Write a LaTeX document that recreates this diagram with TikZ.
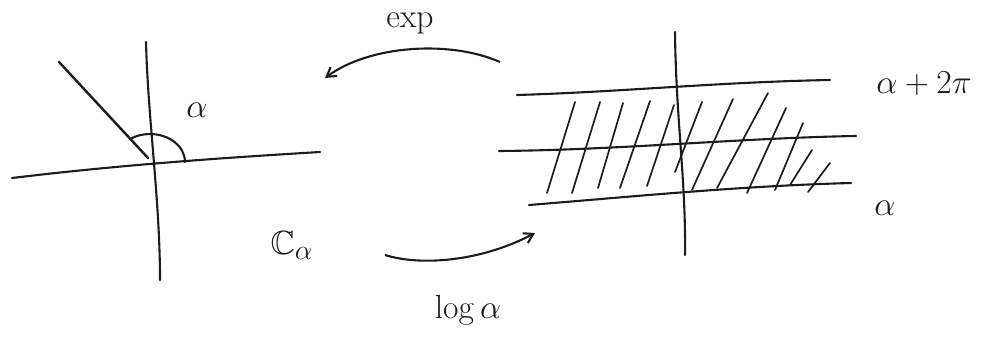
\documentclass[tikz,border=0pt]{standalone}
\usepackage{amssymb}
\usetikzlibrary{arrows.meta, positioning}
\definecolor{pencil}{RGB}{28,28,28}
\tikzset{
    axis/.style={draw=pencil, line width=2.1pt, line cap=round},
    ray/.style={draw=pencil, line width=2.4pt, line cap=round},
    hatch/.style={draw=pencil, line width=1.7pt, line cap=round},
    maparrow/.style={-{Straight Barb[length=9pt,width=11pt]}, draw=pencil, line width=2.1pt},
    label/.style={text=pencil, inner sep=0pt, font=\Huge, scale=1.35}
}
\begin{document}
\begin{tikzpicture}[x=1pt, y=-1pt]
    \useasboundingbox (0,0) rectangle (992,342);

    % left plane with the cut ray
    \draw[axis] (12,178) .. controls (120,165) and (220,158) .. (320,152);
    \draw[axis] (146,42) .. controls (148,120) and (160,200) .. (160,280);
    \draw[ray] (59,62) -- (148,158);
    \draw[axis] (185,162) arc[start angle=0, end angle=-125, x radius=35, y radius=28];
    \node (angle) [label] at (197,110) {$\alpha$};
    \node (plane) [label] at (292,245) {$\mathbb{C}_{\alpha}$};

    % right strip
    \draw[axis] (675,32) .. controls (676,120) and (686,180) .. (685,255);
    \draw[axis] (517,95) .. controls (620,92) and (720,82) .. (830,80);
    \draw[axis] (499,151) .. controls (620,150) and (740,138) .. (856,136);
    \draw[axis] (529,205) .. controls (640,196) and (740,186) .. (851,183);
    \foreach \xa/\ya/\xb/\yb in {547/193/575/102, 572/193/600/102, 598/188/623/103,
        620/188/650/101, 647/186/674/105, 675/172/702/102, 692/190/733/99,
        717/188/768/93, 747/193/786/108, 775/190/803/123, 790/185/812/150,
        808/192/830/163}
        \draw[hatch] (\xa,\ya) -- (\xb,\yb);
    \node (upper) [label, anchor=west] at (876,84) {$\alpha + 2\pi$};
    \node (lower) [label] at (885,208) {$\alpha$};

    % maps between them
    \coordinate (expfrom) at (500,62);
    \coordinate (expto) at (325,78);
    \coordinate (logfrom) at (385,255);
    \coordinate (logto) at (535,233);
    \draw[maparrow] (expfrom) .. controls (450,40) and (370,45) .. (expto);
    \draw[maparrow] (logfrom) .. controls (420,266) and (480,262) .. (logto);
    \node (exp) [label] at (410,24) {$\exp$};
    \node (log) [label] at (468,310) {$\log \alpha$};
\end{tikzpicture}
\end{document}
